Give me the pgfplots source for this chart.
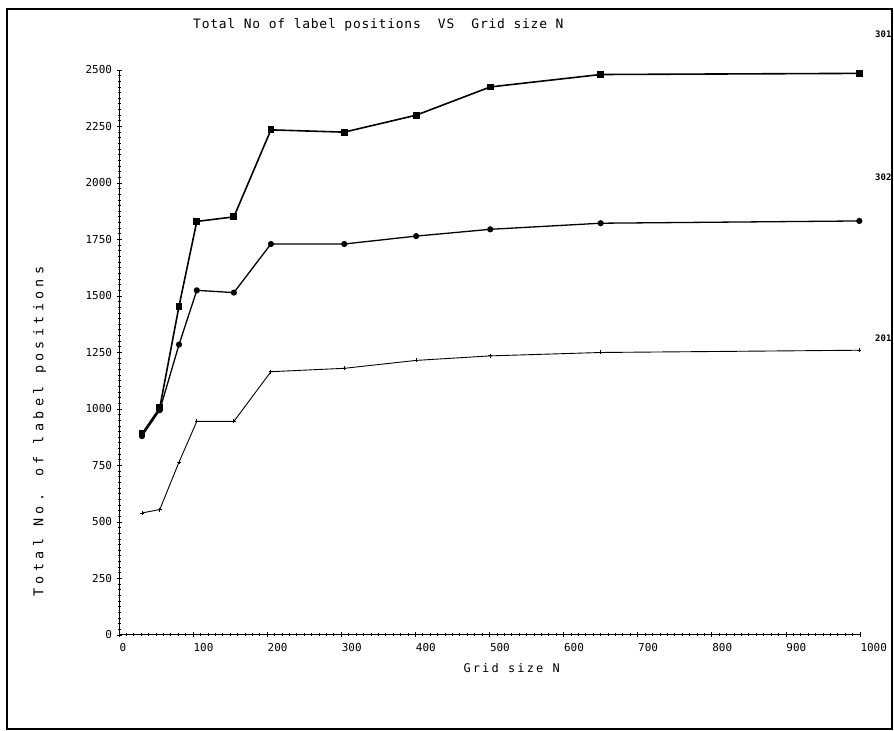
\documentclass[border=0pt]{standalone}
\usepackage{fontspec}
\setmainfont{DejaVu Sans Mono}
\usepackage{pgfplots}
\pgfplotsset{compat=1.18}
\begin{document}
\begin{tikzpicture}[x=1bp,y=1bp]
\path[use as bounding box] (0,0) rectangle (894,731);
\draw[line width=2bp] (7,2) rectangle (892,722);
\begin{axis}[
  at={(119bp,96bp)}, anchor=south west,
  scale only axis, width=741bp, height=565bp,
  xmin=0, xmax=1000, ymin=0, ymax=2500,
  axis x line=bottom, axis y line=left,
  axis line style={-, line width=1bp},
  xtick={0,100,...,1000}, ytick={0,250,...,2500},
  minor x tick num=9, minor y tick num=9,
  tick align=center,
  major tick length=5bp, minor tick length=3bp,
  every tick/.style={black, line width=0.8bp},
  /pgf/number format/assume math mode=true,
  /pgf/number format/1000 sep={},
  tick label style={font=\fontsize{11}{13}\selectfont},
  xticklabel style={anchor=north west, xshift=-3bp, yshift=-2bp},
  yticklabel style={anchor=east, xshift=-1bp},
  title={\addfontfeature{LetterSpace=6}Total No of label positions\ \ VS\ \ Grid size N},
  title style={at={(axis description cs:0.35,1.07)}, anchor=center, font=\fontsize{13}{15}\selectfont},
  xlabel={\addfontfeature{LetterSpace=18}Grid size N},
  xlabel style={at={(axis description cs:0.53,-0.058)}, anchor=center, font=\fontsize{12}{14}\selectfont},
  ylabel={\addfontfeature{LetterSpace=32}Total No. of label positions},
  ylabel style={at={(axis description cs:-0.107,0.36)}, anchor=center, font=\fontsize{13.5}{15}\selectfont},
  clip=false,
]
\addplot[black, line width=1.6bp, mark=square*, mark size=2.6bp] coordinates {
(31,890) (55,1005) (81,1455) (105,1830) (155,1850) (205,2235) (304,2225) (401,2300) (501,2425) (650,2480) (999,2485)};
\addplot[black, line width=1.3bp, mark=*, mark size=2.4bp] coordinates {
(31,880) (55,995) (81,1285) (105,1525) (155,1515) (205,1730) (304,1730) (401,1765) (501,1795) (650,1822) (999,1832)};
\addplot[black, line width=0.9bp, mark=+, mark size=2bp] coordinates {
(31,540) (55,555) (81,765) (105,945) (155,945) (205,1165) (304,1180) (401,1215) (501,1235) (650,1250) (999,1260)};
\node[anchor=west, font=\bfseries\fontsize{9}{10}\selectfont, inner sep=0pt] at (axis cs:1000,2660) [xshift=15bp] {301};
\node[anchor=west, font=\bfseries\fontsize{9}{10}\selectfont, inner sep=0pt] at (axis cs:1000,2027) [xshift=15bp] {302};
\node[anchor=west, font=\bfseries\fontsize{9}{10}\selectfont, inner sep=0pt] at (axis cs:1000,1314) [xshift=15bp] {201};
\end{axis}
\end{tikzpicture}
\end{document}
